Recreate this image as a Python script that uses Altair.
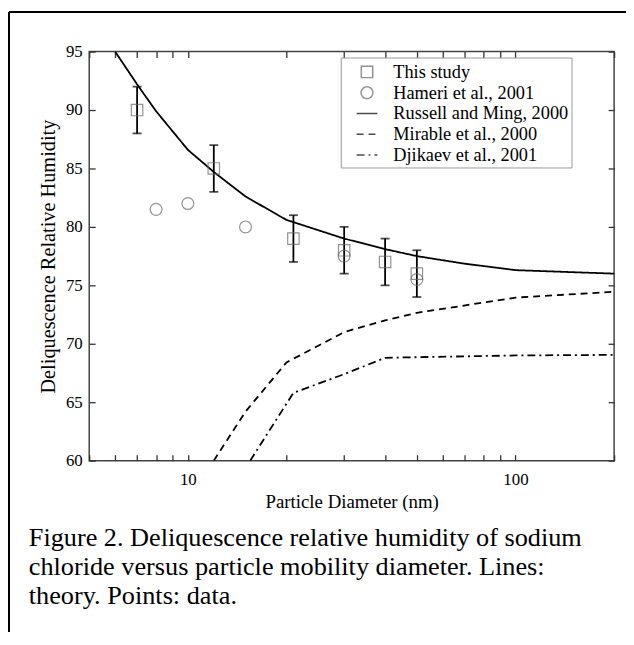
import altair as alt
import pandas as pd

# ---- data ----
series = ["This study", "Hameri et al., 2001", "Russell and Ming, 2000",
          "Mirable et al., 2000", "Djikaev et al., 2001"]

sq_d = [7, 12, 21, 30, 40, 50]
sq_rh = [90, 85, 79, 78, 77, 76]
sq_lo = [88, 83, 77, 76, 75, 74]
sq_hi = [92, 87, 81, 80, 79, 78]

ham_d = [8, 10, 15, 30, 50]
ham_rh = [81.5, 82, 80, 77.5, 75.5]

rm_d = [6, 7, 8, 10, 12, 15, 20, 30, 40, 50, 70, 100, 200]
rm_rh = [95.0, 92.2, 89.9, 86.6, 84.7, 82.6, 80.6, 79.0, 78.1, 77.5, 76.85, 76.3, 76.0]

mi_d = [12, 15, 20, 30, 40, 50, 100, 200]
mi_rh = [60, 64.2, 68.4, 71.0, 72.0, 72.65, 73.95, 74.45]

dj_d = [15.5, 21, 30, 40, 50, 100, 200]
dj_rh = [60, 65.8, 67.4, 68.8, 68.85, 69.0, 69.05]

x_ticks = [5, 6, 7, 8, 9, 10, 20, 30, 40, 50, 60, 70, 80, 90, 100, 200]
x_labels = [10, 100]
y_ticks = [60, 65, 70, 75, 80, 85, 90, 95]

caption = ["Figure 2. Deliquescence relative humidity of sodium",
           "chloride versus particle mobility diameter. Lines:",
           "theory. Points: data."]

# ---- tables ----
pts = pd.concat([
    pd.DataFrame({"d": sq_d, "rh": sq_rh, "series": series[0]}),
    pd.DataFrame({"d": ham_d, "rh": ham_rh, "series": series[1]}),
])
lines = pd.concat([
    pd.DataFrame({"d": rm_d, "rh": rm_rh, "series": series[2]}),
    pd.DataFrame({"d": mi_d, "rh": mi_rh, "series": series[3]}),
    pd.DataFrame({"d": dj_d, "rh": dj_rh, "series": series[4]}),
])
err = pd.DataFrame({"d": sq_d, "lo": sq_lo, "hi": sq_hi})
caps = pd.DataFrame({"d": sq_d + sq_d, "v": sq_lo + sq_hi})
frame = pd.DataFrame({"k": [0]})
cap_df = pd.DataFrame({"txt": ["\n".join(caption)]})

FONT = "Liberation Serif"
xs = alt.Scale(type="log", domain=[5, 200], nice=False)
ys = alt.Scale(domain=[60, 95], nice=False, zero=False)

SQUARE = "M-0.55,-0.55H0.55V0.55H-0.55Z"
CIRCLE = "M0.57,0A0.57,0.57 0 1,1 -0.57,0A0.57,0.57 0 1,1 0.57,0Z"
SYM = 440

shape_s = alt.Scale(domain=series, range=[SQUARE, CIRCLE, "stroke", "stroke", "stroke"])
dash_s = alt.Scale(domain=series, range=[[1, 0], [1, 0], [1, 0], [7, 5], [8, 4, 2, 4]])
color_s = alt.Scale(domain=series, range=["#666666", "#666666", "#000000", "#000000", "#000000"])

leg = alt.Legend(title=None)

tick_common = dict(domain=False, labels=False, ticks=True, tickSize=6, offset=-6,
                   grid=False, title=None, tickColor="#333333", tickWidth=1.3)

line_layer = alt.Chart(lines).mark_line(strokeWidth=1.8, clip=True).encode(
    x=alt.X("d:Q", scale=xs, axis=alt.Axis(
        orient="bottom", values=x_labels, format="d", ticks=False, domain=False, grid=False,
        labelPadding=11, title="Particle Diameter (nm)", titlePadding=5)),
    y=alt.Y("rh:Q", scale=ys, axis=alt.Axis(
        orient="left", values=y_ticks, ticks=False, domain=False, grid=False,
        labelPadding=7, title="Deliquescence Relative Humidity", titlePadding=7)),
    color=alt.Color("series:N", scale=color_s, legend=leg),
    strokeDash=alt.StrokeDash("series:N", scale=dash_s, legend=leg),
    detail="series:N",
)

err_layer = alt.Chart(err).mark_rule(color="black", strokeWidth=1.8).encode(
    x=alt.X("d:Q", scale=xs, axis=alt.Axis(orient="bottom", values=x_ticks, **tick_common)),
    y=alt.Y("lo:Q", scale=ys, axis=alt.Axis(orient="left", values=y_ticks, **tick_common)),
    y2="hi:Q",
)

cap_layer = alt.Chart(caps).mark_tick(orient="horizontal", size=9, thickness=1.8, color="black").encode(
    x=alt.X("d:Q", scale=xs, axis=alt.Axis(orient="top", values=x_ticks, **tick_common)),
    y=alt.Y("v:Q", scale=ys, axis=alt.Axis(orient="right", values=y_ticks, **tick_common)),
)

pt_layer = alt.Chart(pts).mark_point(filled=False, strokeWidth=1.2, size=SYM).encode(
    x=alt.X("d:Q", scale=xs, axis=None),
    y=alt.Y("rh:Q", scale=ys, axis=None),
    shape=alt.Shape("series:N", scale=shape_s, legend=leg),
    color=alt.Color("series:N", scale=color_s, legend=leg),
)

top_border = alt.Chart(frame).mark_rule(color="black", strokeWidth=2).encode(
    x=alt.value(-81), x2=alt.value(560), y=alt.value(-40))
left_border = alt.Chart(frame).mark_rule(color="black", strokeWidth=2).encode(
    x=alt.value(-81), y=alt.value(-40), y2=alt.value(600))

caption_layer = alt.Chart(cap_df).mark_text(
    align="left", baseline="alphabetic", font=FONT, fontSize=26.5, lineHeight=29.5,
    lineBreak="\n", color="black"
).encode(text="txt:N", x=alt.value(-61), y=alt.value(499))

chart = alt.layer(line_layer, err_layer, cap_layer, pt_layer, top_border, left_border,
                  caption_layer).resolve_axis(
    x="independent", y="independent"
).properties(
    width=530, height=413,
    autosize=alt.AutoSizeParams(type="none"),
    padding={"left": 82, "top": 41, "right": 12, "bottom": 170},
).configure_view(
    stroke="#444444", strokeWidth=1.5
).configure_axis(
    labelFont=FONT, labelFontSize=17, labelColor="black",
    titleFont=FONT, titleFontSize=20.5, titleFontWeight="normal", titleColor="black",
).configure_axisX(
    titleFontSize=19
).configure_legend(
    orient="none", legendX=254, legendY=6,
    strokeColor="#999999", fillColor="white", padding=3,
    labelFont=FONT, labelFontSize=18.5, labelColor="black", labelLimit=400,
    labelOffset=15, symbolOffset=12, symbolSize=SYM, symbolStrokeWidth=1.5, rowPadding=0,
    cornerRadius=0,
)

chart.save("out.html", embed_options={"renderer": "svg", "actions": False})
